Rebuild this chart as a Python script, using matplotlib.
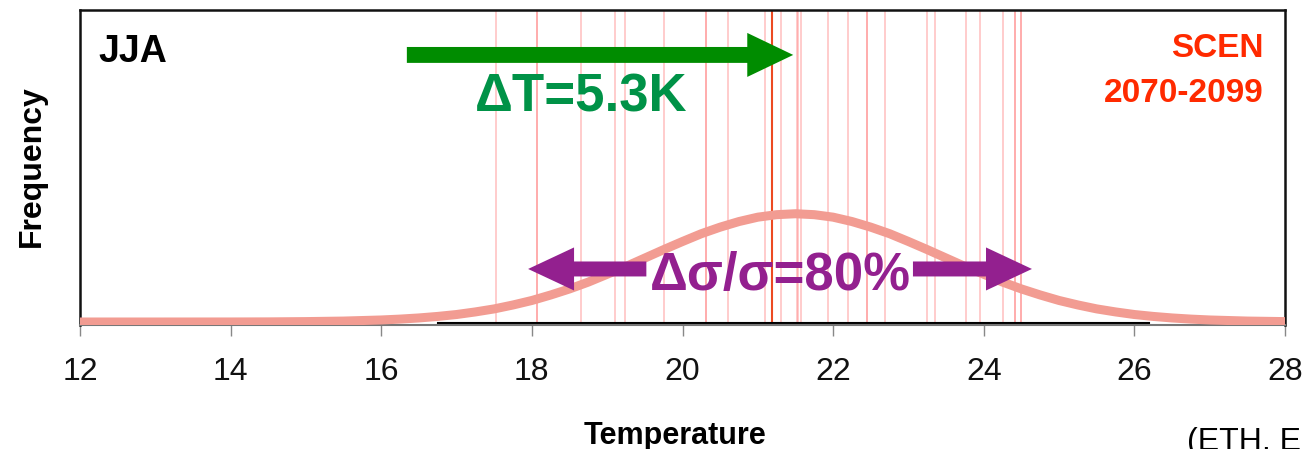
import matplotlib
matplotlib.use("Agg")
import matplotlib.pyplot as plt
from matplotlib.patches import FancyArrow

plt.rcParams["font.family"] = ["Liberation Sans", "DejaVu Sans"]

# ensemble member temperatures (vertical lines) and ensemble mean
members = [17.53, 18.07, 18.07, 18.65, 19.10, 19.24, 19.76, 20.31, 20.31,
           20.60, 21.09, 21.31, 21.52, 21.54, 21.58, 21.93, 22.20, 22.45,
           22.45, 22.69, 23.25, 23.35, 23.77, 23.95, 24.26, 24.42, 24.42,
           24.49, 24.49]
member_mean = 21.19

# fitted distribution
temps = [12.0, 13.0, 14.0, 14.5, 15.0, 15.5, 16.0, 16.25, 16.5, 16.75,
         17.0, 17.25, 17.5, 17.75, 18.0, 18.25, 18.5, 18.75, 19.0, 19.25,
         19.5, 19.75, 20.0, 20.25, 20.5, 20.75, 21.0, 21.25, 21.5, 21.75,
         22.0, 22.25, 22.5, 22.75, 23.0, 23.25, 23.5, 23.75, 24.0, 24.25,
         24.5, 24.75, 25.0, 25.25, 25.5, 25.75, 26.0, 26.25, 26.5, 26.75,
         27.0, 27.5, 28.0]
freq = [0.0, 0.0, 0.0001, 0.0004, 0.0013, 0.003, 0.0065, 0.0093, 0.013,
        0.0179, 0.024, 0.0323, 0.042, 0.0546, 0.069, 0.0866, 0.106, 0.128,
        0.153, 0.178, 0.205, 0.232, 0.258, 0.283, 0.304, 0.322, 0.336, 0.344,
        0.347, 0.344, 0.336, 0.322, 0.304, 0.283, 0.258, 0.232, 0.205, 0.178,
        0.153, 0.128, 0.106, 0.0866, 0.069, 0.0546, 0.042, 0.0323, 0.024,
        0.0179, 0.013, 0.0093, 0.0065, 0.003, 0.0013]

xticks = [12, 14, 16, 18, 20, 22, 24, 26, 28]
delta_t = 5.3
sigma_change = 80

W, H = 1305, 449
fig = plt.figure(figsize=(W / 100, H / 100), dpi=100)
ax = fig.add_axes([80 / W, (H - 325) / H, 1205 / W, 315 / H])

for t in members:
    ax.axvline(t, color="#FF8080", alpha=0.4, lw=1.4, zorder=1)
ax.axvline(member_mean, color="#EC4A22", lw=1.5, zorder=2)

# black base line under the data range
ax.plot([16.75, 26.2], [-0.004, -0.004], color="black", lw=1.5, zorder=2)

ax.plot(temps, freq, color="#F29C92", lw=6.5, solid_capstyle="butt",
        solid_joinstyle="round", zorder=3)

# shift arrow
ax.add_patch(FancyArrow(16.34, 0.856, 21.47 - 16.34, 0, width=0.051,
                        head_width=0.141, head_length=0.61,
                        length_includes_head=True, color="#008C00", lw=0, zorder=4))
ax.text(18.66, 0.676, f"\u0394T={delta_t}K", color="#009247", fontsize=38,
        fontweight="bold", ha="center", va="baseline", zorder=5)

# spread arrows
for x0, dx in [(19.52, -1.57), (23.06, 1.58)]:
    ax.add_patch(FancyArrow(x0, 0.170, dx, 0, width=0.048, head_width=0.138,
                            head_length=0.61, length_includes_head=True,
                            color="#93208F", lw=0, zorder=4))
ax.text(21.30, 0.1026, f"\u0394\u03c3/\u03c3={sigma_change}%", color="#93208F",
        fontsize=38, fontweight="bold", ha="center", va="baseline", zorder=5)

ax.text(12.24, 0.833, "JJA", fontsize=27, fontweight="bold", color="black",
        va="baseline", ha="left")
ax.text(27.72, 0.850, "SCEN", fontsize=24, fontweight="bold", color="#FF2A00",
        va="baseline", ha="right")
ax.text(27.72, 0.706, "2070-2099", fontsize=24, fontweight="bold", color="#FF2A00",
        va="baseline", ha="right")

ax.set_xlim(12, 28)
ax.set_ylim(-0.0096, 1.0)
ax.set_yticks([])
ax.set_xticks(xticks)
ax.set_xticklabels([str(t) for t in xticks], fontsize=23, color="#111111")
ax.tick_params(axis="x", length=8, width=1, color="#888888", pad=15)

for side in ["left", "top", "right"]:
    ax.spines[side].set_color("#111111")
    ax.spines[side].set_linewidth(1.8)
ax.spines["bottom"].set_color("#777777")
ax.spines["bottom"].set_linewidth(1.5)

fig.text(32 / W, 1 - 166 / H, "Frequency", rotation=90, fontsize=23,
         fontweight="bold", ha="center", va="center")
fig.text(675 / W, 1 - 444 / H, "Temperature", fontsize=22, fontweight="bold",
         ha="center", va="baseline")
# source note, cut at the lower right edge as in the original
fig.text(1187 / W, 1 - 450 / H, "(ETH, E", fontsize=23, ha="left", va="baseline")

fig.savefig("out.png", dpi=100)
